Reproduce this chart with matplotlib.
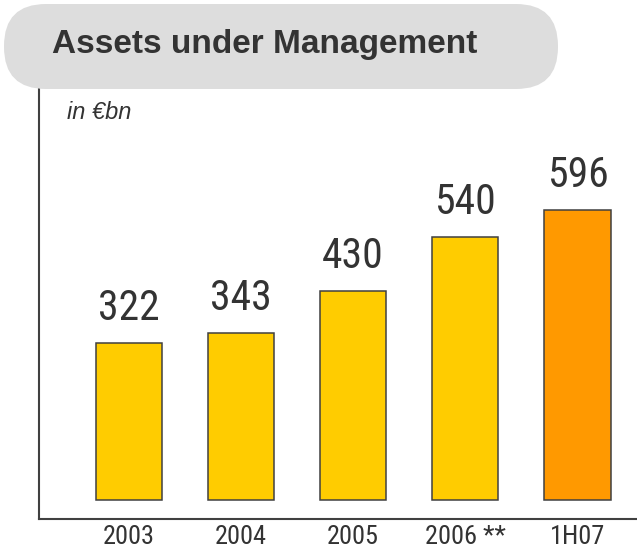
import matplotlib
matplotlib.use("Agg")
import matplotlib.pyplot as plt
from matplotlib import font_manager
from matplotlib.font_manager import FontProperties
from matplotlib.patches import FancyBboxPatch

# data
categories = ["2003", "2004", "2005", "2006 **", "1H07"]
values = [322, 343, 430, 540, 596]
bar_colors = ["#FFCC00", "#FFCC00", "#FFCC00", "#FFCC00", "#FF9900"]
title = "Assets under Management"
unit = "in \u20acbn"


def narrow_font():
    # look for a condensed face, the original uses something like Arial Narrow
    fl = font_manager.fontManager.ttflist
    for want in ["Liberation Sans Narrow", "Roboto Condensed", "DejaVu Sans Condensed"]:
        for f in fl:
            if f.name == want and f.weight in (400, "normal", "regular") and f.style == "normal":
                return FontProperties(fname=f.fname)
    for f in fl:
        if f.name == "DejaVu Sans" and f.stretch == "condensed" and f.style == "normal" \
                and f.weight in (400, "normal", "regular"):
            return FontProperties(fname=f.fname)
    return FontProperties(family="Roboto")


nfp = narrow_font()
text_col = "#333333"

W, H = 637, 556
fig = plt.figure(figsize=(W / 100, H / 100), dpi=100)

# plot area in pixels: left spine x=39, bottom spine y=519, top y=88
ax = fig.add_axes([39 / W, (H - 519) / H, (W - 39) / W, (519 - 88) / H])
x = range(len(values))
bars = ax.bar(x, values, width=0.59, color=bar_colors,
              edgecolor="#404040", linewidth=1.1)
ax.set_xlim(-0.80, 4.53)
ax.set_ylim(-39, 847)

for rect, v in zip(bars, values):
    fp = nfp.copy()
    fp.set_size(30)
    ax.annotate(str(v), (rect.get_x() + rect.get_width() / 2, v),
                xytext=(0, 16.5), textcoords="offset points",
                ha="center", va="baseline", fontproperties=fp, color=text_col)

ax.set_xticks(list(x))
tfp = nfp.copy()
tfp.set_size(19)
ax.set_xticklabels(categories, fontproperties=tfp, color=text_col)
ax.tick_params(axis="x", length=0, pad=4)
ax.set_yticks([])
for s in ["top", "right"]:
    ax.spines[s].set_visible(False)
for s in ["left", "bottom"]:
    ax.spines[s].set_color("#404040")
    ax.spines[s].set_linewidth(1.5)

# title pill, drawn in pixel coordinates
ov = fig.add_axes([0, 0, 1, 1], zorder=5)
ov.set_xlim(0, W)
ov.set_ylim(H, 0)
ov.axis("off")
ov.patch.set_alpha(0)
ov.add_patch(FancyBboxPatch((4, 4), 554, 85,
                            boxstyle="round,pad=0,rounding_size=42",
                            facecolor="#DDDDDD", edgecolor="none"))
ov.text(52, 53, title, fontsize=24, fontweight="bold",
        family="Liberation Sans", color=text_col, va="baseline", ha="left")
ov.text(67, 119, unit, fontsize=17, style="italic",
        family="Liberation Sans", color=text_col, va="baseline", ha="left")

fig.savefig("out.png", dpi=100)
